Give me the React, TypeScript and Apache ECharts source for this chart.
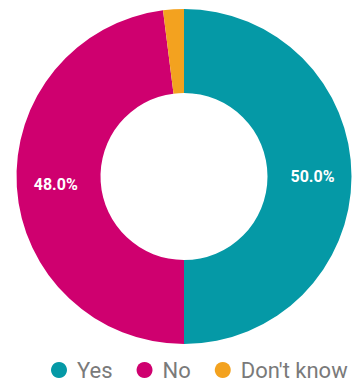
import React, { useEffect, useRef } from "react";
import * as echarts from "echarts";

const categories = ["Yes", "No", "Don't know"];
const values = [50.0, 48.0, 2.0];
const colors = ["#0599a6", "#cf006f", "#f3a21f"];

export default function App() {
  const ref = useRef<HTMLDivElement>(null);
  useEffect(() => {
    if (!ref.current) return;
    const chart = echarts.init(ref.current, null, { renderer: "svg" });
    chart.setOption({
      animation: false,
      color: colors,
      legend: {
        top: 359,
        left: 51,
        padding: 0,
        icon: "circle",
        itemWidth: 16,
        itemHeight: 16,
        itemGap: 24,
        formatter: (name: string) => `{g|}${name}`,
        textStyle: {
          fontFamily: "Roboto",
          fontSize: 22,
          color: "#7a7a7a",
          rich: { g: { width: 5, fontSize: 22 } },
        },
        data: categories,
      },
      series: [
        {
          type: "pie",
          center: [184, 176.5],
          radius: [83.5, 167.5],
          startAngle: 90,
          clockwise: true,
          label: {
            show: true,
            position: "inside",
            formatter: (p: any) => (p.value >= 10 ? p.value.toFixed(1) + "%" : ""),
            color: "#ffffff",
            fontFamily: "Roboto",
            fontWeight: "bold",
            fontSize: 16,
          },
          labelLine: { show: false },
          itemStyle: { borderWidth: 0 },
          emphasis: { disabled: true },
          data: categories.map((c, i) => ({ name: c, value: values[i] })),
        },
      ],
    });
    return () => chart.dispose();
  }, []);
  return (
    <div
      ref={ref}
      style={{ position: "fixed", left: 0, top: 0, width: 358, height: 382, background: "#fff" }}
    />
  );
}
